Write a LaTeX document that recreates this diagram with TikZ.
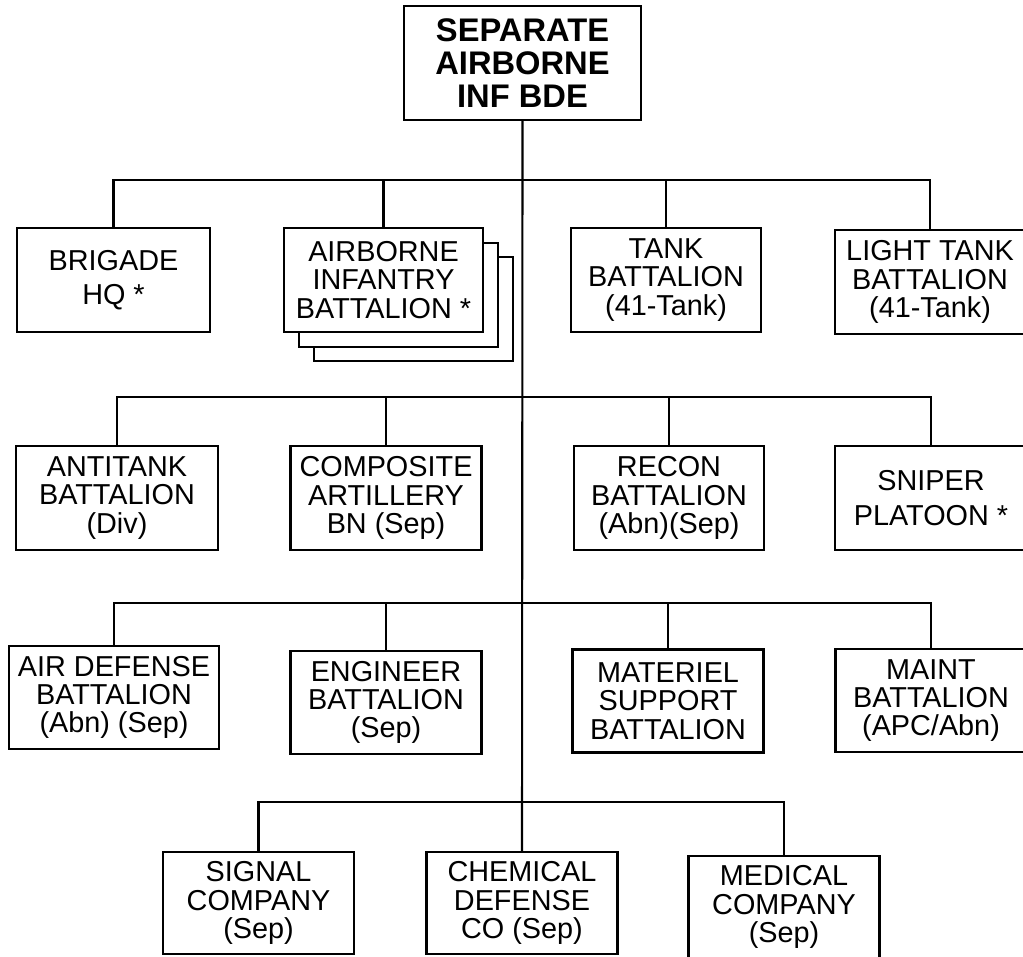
\documentclass[tikz,border=0pt]{standalone}
\usepackage{fontspec}
\setmainfont{Liberation Sans}
\usetikzlibrary{positioning}

\begin{document}
\begin{tikzpicture}[x=0.02cm,y=-0.02cm,line width=1.2pt,
  unit/.style={draw,fill=white,line width=1.4pt,inner sep=0pt,align=center,
    minimum width=191*0.02cm,minimum height=104*0.02cm,
    font=\fontsize{16.4}{16.1}\selectfont},
  wd/.style={minimum width=#1*0.02cm}]
  \useasboundingbox (0,0) rectangle (1023,956);
  \clip (0,0) rectangle (1023,956);
  % mando
  \node[unit,wd=237,minimum height=114*0.02cm,
    font=\bfseries\fontsize{18.6}{18.8}\selectfont] (bde) at (522.5,63)
    {SEPARATE\\AIRBORNE\\INF BDE};
  % primera fila
  \node[unit,wd=193] (hq) at (113.5,280) {BRIGADE\\[3.5pt]HQ *};
  \node[unit,wd=199] (abnc) at (413.5,309) {};
  \node[unit,wd=199] (abnb) at (398.5,295) {};
  \node[unit,wd=199] (abn) at (383.5,280) {AIRBORNE\\INFANTRY\\BATTALION *};
  \node[unit,wd=190] (tank) at (666,280) {TANK\\BATTALION\\(41-Tank)};
  \node[unit,wd=190] (ltank) at (930,282) {LIGHT TANK\\BATTALION\\(41-Tank)};
  % segunda fila
  \node[unit,wd=202] (at) at (117,498) {ANTITANK\\BATTALION\\(Div)};
  \node[unit,wd=191] (arty) at (386,498) {COMPOSITE\\ARTILLERY\\BN (Sep)};
  \node[unit,wd=190] (recon) at (669,498) {RECON\\BATTALION\\(Abn)(Sep)};
  \node[unit,wd=192] (snip) at (931,498) {SNIPER\\[3.5pt]PLATOON *};
  % tercera fila
  \node[unit,wd=210,minimum height=103*0.02cm] (ad) at (114,697.5) {AIR DEFENSE\\BATTALION\\(Abn) (Sep)};
  \node[unit,minimum height=103*0.02cm] (eng) at (386,702.5) {ENGINEER\\BATTALION\\(Sep)};
  \node[unit,minimum height=103*0.02cm] (mat) at (668,701) {MATERIEL\\SUPPORT\\BATTALION};
  \node[unit,minimum height=103*0.02cm] (maint) at (931,700.5) {MAINT\\BATTALION\\(APC/Abn)};
  % cuarta fila
  \node[unit,minimum height=102*0.02cm] (sig) at (258.5,903) {SIGNAL\\COMPANY\\(Sep)};
  \node[unit,minimum height=102*0.02cm] (chem) at (522,903) {CHEMICAL\\DEFENSE\\CO (Sep)};
  \node[unit,minimum height=102*0.02cm] (med) at (784,907) {MEDICAL\\COMPANY\\(Sep)};
  % barras
  \coordinate (bar1) at (522,180);
  \coordinate (bar2) at (522,397);
  \coordinate (bar3) at (522,603);
  \coordinate (bar4) at (522,802);
  \draw (bde.south) -- (chem.north);
  \draw (hq.north) |- (bar1) -| (ltank.north);
  \draw (abn.north) -- (abn.north |- bar1);
  \draw (tank.north) -- (tank.north |- bar1);
  \draw (at.north) |- (bar2) -| (snip.north);
  \draw (arty.north) -- (arty.north |- bar2);
  \draw (recon.north) -- (recon.north |- bar2);
  \draw (ad.north) |- (bar3) -| (maint.north);
  \draw (eng.north) -- (eng.north |- bar3);
  \draw (mat.north) -- (mat.north |- bar3);
  \draw (sig.north) |- (bar4) -| (med.north);
\end{tikzpicture}
\end{document}
